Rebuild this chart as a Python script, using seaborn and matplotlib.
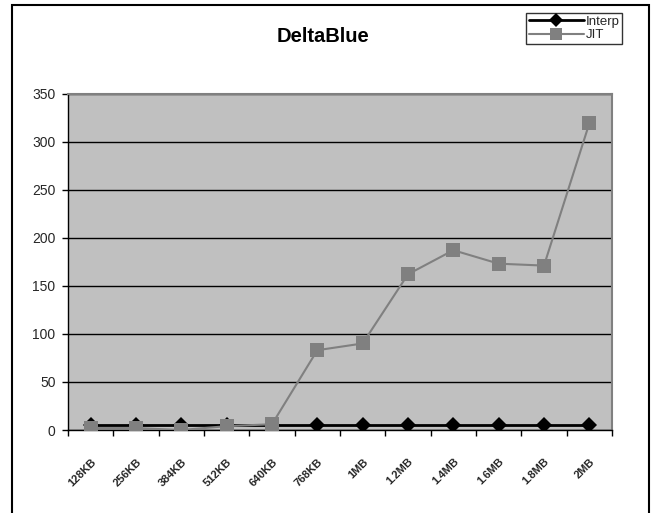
import matplotlib
matplotlib.use("Agg")
import matplotlib.pyplot as plt
import matplotlib.patches as mpatches
import seaborn as sns
import pandas as pd

# Data
sizes = ["128KB", "256KB", "384KB", "512KB", "640KB", "768KB",
         "1MB", "1.2MB", "1.4MB", "1.6MB", "1.8MB", "2MB"]
interp = [5, 5, 5, 5, 5, 5, 5, 5, 5, 5, 5, 5]
jit = [2, 2, 0, 4, 6, 83, 90, 162, 187, 173, 171, 319]
yticks = [0, 50, 100, 150, 200, 250, 300, 350]

df = pd.DataFrame({
    "size": sizes * 2,
    "value": interp + jit,
    "series": ["Interp"] * len(sizes) + ["JIT"] * len(sizes),
})
df["pos"] = list(range(len(sizes))) * 2

sns.set_theme(style="white")
plt.rcParams["font.family"] = ["Liberation Sans", "DejaVu Sans"]

fig = plt.figure(figsize=(6.52, 5.13), dpi=100)
ax = fig.add_axes([68 / 652, 1 - 430 / 513, (612 - 68) / 652, (430 - 93.5) / 513])
ax.set_facecolor("#c0c0c0")

colors = {"Interp": "#000000", "JIT": "#808080"}
sns.lineplot(data=df[df.series == "JIT"], x="pos", y="value", ax=ax,
             color=colors["JIT"], marker="s", markersize=9.5, markeredgewidth=0,
             linewidth=1.5, zorder=3, legend=False)
sns.lineplot(data=df[df.series == "Interp"], x="pos", y="value", ax=ax,
             color=colors["Interp"], marker="D", markersize=8, markeredgewidth=0,
             linewidth=2, zorder=2, legend=False)

ax.set_xlim(-0.5, len(sizes) - 0.5)
ax.set_ylim(0, 350)
ax.set_yticks(yticks)
ax.set_yticklabels([str(v) for v in yticks], fontsize=10)
ax.yaxis.grid(True, color="black", linewidth=1)
ax.set_axisbelow(True)
ax.set_xticks(range(len(sizes)))
ax.set_xticklabels(sizes, rotation=45, ha="right", rotation_mode="anchor",
                   fontsize=8, fontweight="bold")
ax.set_xticks([i - 0.5 for i in range(len(sizes) + 1)], minor=True)
ax.tick_params(axis="x", which="major", length=0, pad=19)
ax.tick_params(axis="x", which="minor", length=4, width=1, color="black",
               direction="out", bottom=True)
ax.tick_params(axis="y", length=4, width=1, color="black", direction="out",
               left=True, pad=5)
ax.set_xlabel("")
ax.set_ylabel("")
for side in ["top", "right"]:
    ax.spines[side].set_color("#808080")
    ax.spines[side].set_linewidth(1.5)
for side in ["left", "bottom"]:
    ax.spines[side].set_color("black")
    ax.spines[side].set_linewidth(1)

fig.text(323 / 652, 1 - 37 / 513, "DeltaBlue", ha="center", va="center",
         fontsize=14.5, fontweight="bold", color="black")

handles = [
    plt.Line2D([], [], color="black", marker="D", markersize=7, linewidth=2,
               markeredgewidth=0),
    plt.Line2D([], [], color="#808080", marker="s", markersize=8, linewidth=1.5,
               markeredgewidth=0),
]
leg = fig.legend(handles, ["Interp", "JIT"], loc="upper right",
                 bbox_to_anchor=(622 / 652, 1 - 13 / 513), frameon=True,
                 fancybox=False, fontsize=9.5, handlelength=4.2,
                 borderpad=0.2, labelspacing=0.1, handletextpad=0.1,
                 borderaxespad=0)
leg.get_frame().set_edgecolor("black")
leg.get_frame().set_linewidth(1)

# Chart area border
fig.patches.append(mpatches.Rectangle((12 / 652, -0.05), (649 - 12) / 652,
                                      1 - 5 / 513 + 0.05, transform=fig.transFigure,
                                      fill=False, edgecolor="black", linewidth=1.5))

fig.savefig("out.png", dpi=100)
